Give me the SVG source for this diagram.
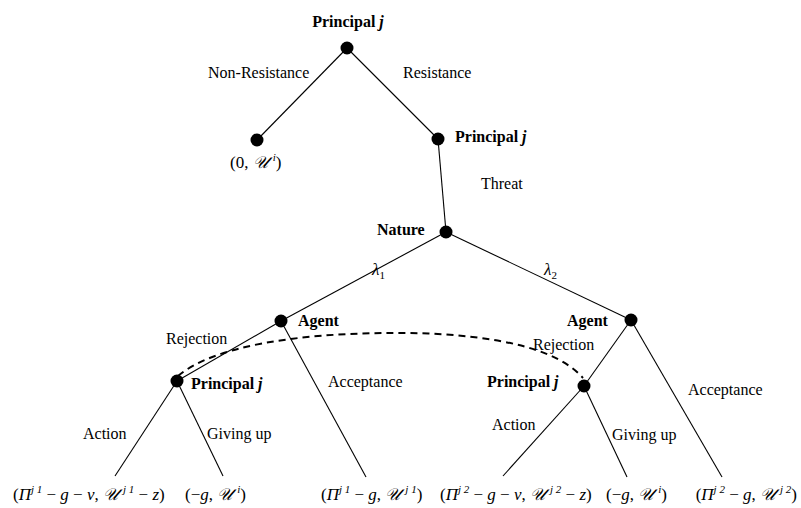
<svg xmlns="http://www.w3.org/2000/svg" width="801" height="508" viewBox="0 0 801 508">
<style>
.edge{stroke:#000;stroke-width:1.1;fill:none}
.dash{stroke:#000;stroke-width:2;fill:none;stroke-dasharray:7,5}
.node{fill:#000}
.b{font-family:"Liberation Serif","Times New Roman",serif;font-weight:bold;font-size:16px;fill:#000}
.r{font-family:"Liberation Serif","Times New Roman",serif;font-size:16px;fill:#000}
.m{font-family:"Liberation Serif","DejaVu Serif",serif;font-style:italic;font-size:17px;fill:#000}
.up{font-size:11px}
.n{font-style:normal}
</style>
<rect width="801" height="508" fill="#fff"/>
<g id="connectors">
<line class="edge" x1="347" y1="48" x2="257" y2="140"/>
<line class="edge" x1="347" y1="48" x2="438" y2="139"/>
<line class="edge" x1="438" y1="139" x2="446" y2="232"/>
<line class="edge" x1="446" y1="232" x2="281" y2="321"/>
<line class="edge" x1="446" y1="232" x2="631" y2="320"/>
<line class="edge" x1="281" y1="321" x2="177" y2="381"/>
<line class="edge" x1="631" y1="320" x2="584" y2="386"/>
<line class="edge" x1="177" y1="381" x2="115" y2="476"/>
<line class="edge" x1="177" y1="381" x2="223" y2="476"/>
<line class="edge" x1="281" y1="321" x2="366" y2="477"/>
<line class="edge" x1="584" y1="386" x2="503" y2="476"/>
<line class="edge" x1="584" y1="386" x2="627" y2="477"/>
<line class="edge" x1="631" y1="320" x2="722" y2="477"/>
<path class="dash" d="M178,376 C215,345 300,334 383,333 C460,332 550,340 583,378"/>
</g>
<g id="root"><circle class="node" cx="347" cy="48" r="6.5"/><text class="b" x="348" y="27" text-anchor="middle">Principal <tspan font-style="italic">j</tspan></text></g>
<g id="leaf0"><circle class="node" cx="257" cy="140" r="6.5"/><text class="m" x="230" y="168"><tspan class="n">(0, </tspan>𝒰<tspan class="up" dx="5" dy="-7">i</tspan><tspan class="n" dy="7">)</tspan></text></g>
<g id="pj1"><circle class="node" cx="438" cy="139" r="6.5"/><text class="b" x="455" y="142">Principal <tspan font-style="italic">j</tspan></text></g>
<g id="nature"><circle class="node" cx="446" cy="232" r="6.5"/><text class="b" x="377" y="235">Nature</text></g>
<g id="agent1"><circle class="node" cx="281" cy="321" r="6.5"/><text class="b" x="298" y="326">Agent</text></g>
<g id="agent2"><circle class="node" cx="631" cy="320" r="6.5"/><text class="b" x="567" y="326">Agent</text></g>
<g id="pjL"><circle class="node" cx="177" cy="381" r="6.5"/><text class="b" x="191" y="389">Principal <tspan font-style="italic">j</tspan></text></g>
<g id="pjR"><circle class="node" cx="584" cy="386" r="6.5"/><text class="b" x="487" y="387">Principal <tspan font-style="italic">j</tspan></text></g>
<g id="labels">
<text class="r" x="208" y="78">Non-Resistance</text>
<text class="r" x="403" y="78">Resistance</text>
<text class="r" x="481" y="189">Threat</text>
<text class="m" x="372" y="275">λ<tspan class="up n" dy="4">1</tspan></text>
<text class="m" x="544" y="275">λ<tspan class="up n" dy="4">2</tspan></text>
<text class="r" x="166" y="344">Rejection</text>
<text class="r" x="533" y="350">Rejection</text>
<text class="r" x="328" y="387">Acceptance</text>
<text class="r" x="688" y="395">Acceptance</text>
<text class="r" x="83" y="439">Action</text>
<text class="r" x="207" y="439">Giving up</text>
<text class="r" x="492" y="430">Action</text>
<text class="r" x="612" y="440">Giving up</text>
</g>
<g id="payoffs">
<text class="m" x="13" y="500"><tspan class="n">(</tspan>Π<tspan class="up" dy="-7">j 1</tspan><tspan class="n" dy="7"> − </tspan>g<tspan class="n"> − </tspan>v<tspan class="n">, </tspan>𝒰<tspan class="up" dx="5" dy="-7">j 1</tspan><tspan class="n" dy="7"> − </tspan>z<tspan class="n">)</tspan></text>
<text class="m" x="185" y="500"><tspan class="n">(−</tspan>g<tspan class="n">, </tspan>𝒰<tspan class="up" dx="5" dy="-7">i</tspan><tspan class="n" dy="7">)</tspan></text>
<text class="m" x="321" y="500"><tspan class="n">(</tspan>Π<tspan class="up" dy="-7">j 1</tspan><tspan class="n" dy="7"> − </tspan>g<tspan class="n">, </tspan>𝒰<tspan class="up" dx="5" dy="-7">j 1</tspan><tspan class="n" dy="7">)</tspan></text>
<text class="m" x="440" y="500"><tspan class="n">(</tspan>Π<tspan class="up" dy="-7">j 2</tspan><tspan class="n" dy="7"> − </tspan>g<tspan class="n"> − </tspan>v<tspan class="n">, </tspan>𝒰<tspan class="up" dx="5" dy="-7">j 2</tspan><tspan class="n" dy="7"> − </tspan>z<tspan class="n">)</tspan></text>
<text class="m" x="606" y="500"><tspan class="n">(−</tspan>g<tspan class="n">, </tspan>𝒰<tspan class="up" dx="5" dy="-7">i</tspan><tspan class="n" dy="7">)</tspan></text>
<text class="m" x="797" y="500" text-anchor="end"><tspan class="n">(</tspan>Π<tspan class="up" dy="-7">j 2</tspan><tspan class="n" dy="7"> − </tspan>g<tspan class="n">, </tspan>𝒰<tspan class="up" dx="5" dy="-7">j 2</tspan><tspan class="n" dy="7">)</tspan></text>
</g>
</svg>
